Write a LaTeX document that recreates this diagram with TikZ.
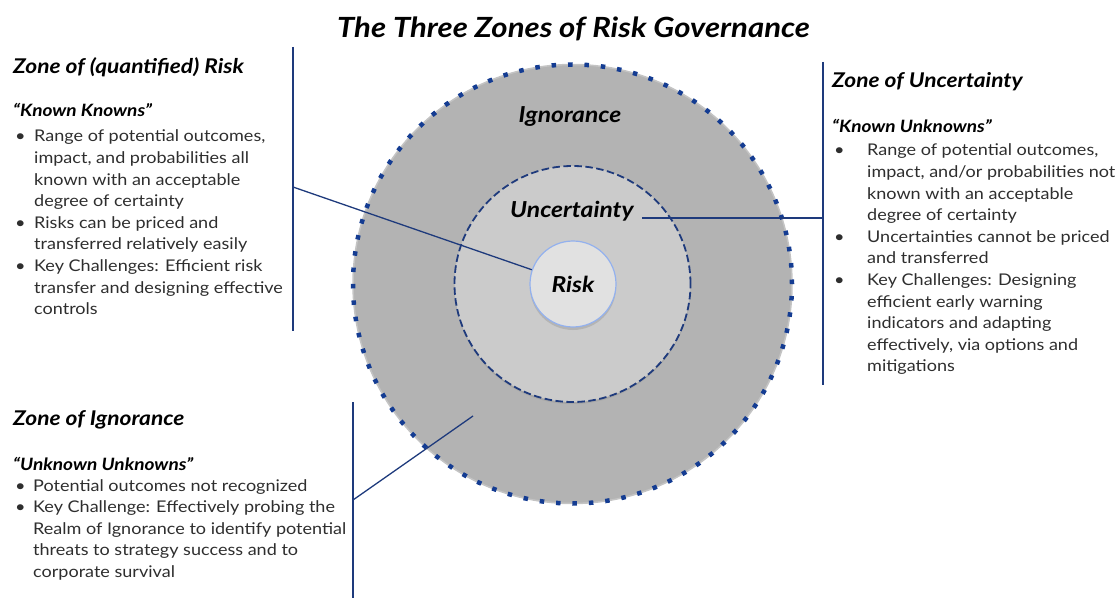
\documentclass[tikz,border=0pt]{standalone}
\usepackage{fontspec}
\setmainfont{Lato}[FakeStretch=1.12]
\usetikzlibrary{shadows}
\definecolor{navy}{HTML}{1E3A7C}
\definecolor{dotblue}{HTML}{143C92}
\definecolor{ringA}{HTML}{B3B3B3}
\definecolor{ringAedge}{HTML}{C4C4C4}
\definecolor{ringB}{HTML}{CBCBCB}
\definecolor{ringC}{HTML}{E1E1E1}
\definecolor{riskedge}{HTML}{93B1EE}
\definecolor{bodytext}{HTML}{2E2E2E}
\newcommand\bi[1]{\makebox[#1][l]{\textbullet}}
\newcommand\bc[1]{\makebox[#1]{}}
\begin{document}
\begin{tikzpicture}[x=1pt,y=-1pt,
  conn/.style={draw=navy, line width=1.3pt},
  ttl/.style={anchor=base, inner sep=0pt, font=\fontsize{27.8}{32}\selectfont\bfseries\itshape},
  head/.style={anchor=base west, inner sep=0pt, font=\fontsize{20.3}{24}\selectfont\bfseries\itshape},
  sub/.style={anchor=base west, inner sep=0pt, font=\fontsize{17}{20}\selectfont\bfseries\itshape},
  body/.style={anchor=base west, inner sep=0pt, text=bodytext, font=\fontsize{16.1}{21.6}\selectfont},
  lbl/.style={anchor=base, inner sep=0pt, font=\fontsize{22}{26}\selectfont\bfseries\itshape},
  zone/.style={circle, inner sep=0pt}]
\useasboundingbox (0,0) rectangle (1117,599);
% title
\node[ttl] (title) at (573.5,38) {The Three Zones of Risk Governance};
% circles
\node[zone, minimum size=439pt, fill=ringA, draw=ringAedge, line width=1.5pt] (ign) at (572.5,284) {};
\draw[dotblue, line width=4.5pt, dash pattern=on 4.5pt off 11.92pt] (ign.center) circle (219.5pt);
\node[zone, minimum size=236pt, fill=ringB, draw=navy, line width=1.8pt, dash pattern=on 7.5pt off 3.5pt,
      drop shadow={shadow xshift=0pt, shadow yshift=-2pt, opacity=0.25}] (unc) at (572.5,284) {};
\node[zone, minimum size=86pt, fill=ringC, draw=riskedge, line width=1.2pt,
      drop shadow={shadow xshift=0pt, shadow yshift=-3pt, opacity=0.3}] (risk) at (573,284) {};
% labels in circles
\node[lbl] (ignlbl) at (570,123) {Ignorance};
\node[lbl] (unclbl) at (572,218) {Uncertainty};
\node[lbl] (risklbl) at ([yshift=-8pt]risk.center) {Risk};
% left block
\coordinate (lv1) at (293,47);
\coordinate (lv2) at (293,331);
\coordinate (lk) at (293,187);
\draw[conn] (lv1) -- (lv2);
\draw[conn] (lk) -- (risk);
\node[head] (h1) at (13,74) {Zone of (quantified) Risk};
\node[sub] (s1) at (13,117) {“Known Knowns”};
\node[body] (b1) at (15,142) {\begin{tabular}[t]{@{}l@{}}
\bi{19pt}Range of potential outcomes,\\
\bc{19pt}impact, and probabilities all\\
\bc{19pt}known with an acceptable\\
\bc{19pt}degree of certainty\\
\bi{19pt}Risks can be priced and\\
\bc{19pt}transferred relatively easily\\
\bi{19pt}Key Challenges: Efficient risk\\
\bc{19pt}transfer and designing effective\\
\bc{19pt}controls
\end{tabular}};
% right block
\coordinate (rv1) at (823,62);
\coordinate (rv2) at (823,385);
\coordinate (rk) at (823,218);
\draw[conn] (rv1) -- (rv2);
\draw[conn] (rk) -- ([xshift=8pt]unclbl.east |- rk);
\node[head] (h2) at (832,88) {Zone of Uncertainty};
\node[sub] (s2) at (832,133) {“Known Unknowns”};
\node[body] (b2) at (834,156) {\begin{tabular}[t]{@{}l@{}}
\bi{33pt}Range of potential outcomes,\\
\bc{33pt}impact, and/or probabilities not\\
\bc{33pt}known with an acceptable\\
\bc{33pt}degree of certainty\\
\bi{33pt}Uncertainties cannot be priced\\
\bc{33pt}and transferred\\
\bi{33pt}Key Challenges: Designing\\
\bc{33pt}efficient early warning\\
\bc{33pt}indicators and adapting\\
\bc{33pt}effectively, via options and\\
\bc{33pt}mitigations
\end{tabular}};
% bottom block
\coordinate (bv1) at (353,402);
\coordinate (bv2) at (353,598);
\coordinate (bk) at (353,500);
\coordinate (ik) at (473,416);
\draw[conn] (bv1) -- (bv2);
\draw[conn] (bk) -- (ik);
\node[head] (h3) at (13,425) {Zone of Ignorance};
\node[sub] (s3) at (13,470) {“Unknown Unknowns”};
\node[body] (b3) at (15,491) {\begin{tabular}[t]{@{}l@{}}
\bi{18pt}Potential outcomes not recognized\\
\bi{18pt}Key Challenge: Effectively probing the\\
\bc{18pt}Realm of Ignorance to identify potential\\
\bc{18pt}threats to strategy success and to\\
\bc{18pt}corporate survival
\end{tabular}};
\end{tikzpicture}
\end{document}
